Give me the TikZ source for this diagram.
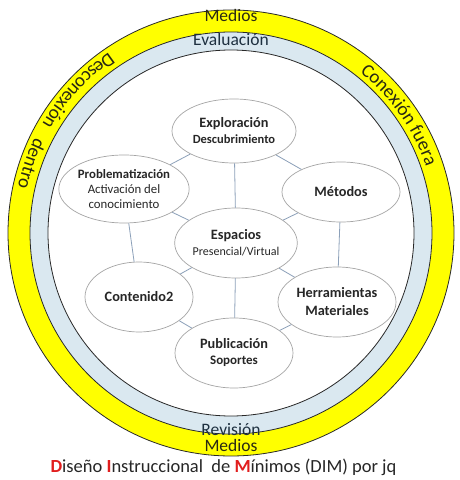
\documentclass[tikz,border=0pt]{standalone}
\usepackage{fontspec}
\setmainfont{Carlito}
\usepackage{tikz}
\usetikzlibrary{arrows,%
                shapes.geometric,%
                decorations.text}
\usepackage{color}
\definecolor{ringyellow}{RGB}{255,255,0}
\definecolor{ringblue}{RGB}{218,232,240}
\definecolor{ringline}{RGB}{40,40,40}
\definecolor{bubbleline}{RGB}{165,165,165}
\definecolor{spoke}{RGB}{140,160,185}
\definecolor{ringtext}{RGB}{30,48,64}
\definecolor{mediatext}{RGB}{40,40,20}
\definecolor{dimred}{RGB}{225,30,30}
\newcommand{\dimletter}[1]{\textcolor{dimred}{\textbf{#1}}}

\begin{document}
\begin{tikzpicture}[x=1pt, y=1pt,
  bubble/.style={ellipse, draw=bubbleline, fill=white, line width=0.7pt,
    inner sep=0pt, align=center, text=black!85,
    font=\fontsize{14.3}{16}\selectfont\bfseries},
  ringlabel/.style={anchor=base, font=\fontsize{17.5}{20}\selectfont},
  spokeline/.style={draw=spoke, line width=0.8pt},
  arctext/.style={decorate, decoration={text along path, text align=center,
    text={|\fontsize{19}{22}\selectfont\color{mediatext}|#1}}}]
\useasboundingbox (0,0) rectangle (460,480);

\coordinate (M) at (231,247);
\fill[ringyellow, draw=ringline, line width=0.8pt] (M) circle (223pt);
\fill[ringblue, draw=ringline, line width=0.8pt] (M) circle (201pt);
\fill[white, draw=ringline, line width=0.8pt] (M) circle (183pt);

\node[ringlabel, text=mediatext] (mediosA) at (231,458) {Medios};
\node[ringlabel, text=ringtext] (evaluacion) at (231,434) {Evaluación};
\node[ringlabel, text=ringtext] (revision) at (231,45) {Revisión};
\node[ringlabel, text=mediatext] (mediosB) at (231,28) {Medios};

\path[arctext={Conexión fuera}] (M) ++(80:206pt) arc (80:-10:206pt);
\path[arctext={Desconexión}] (M) ++(100:218pt) arc (100:174:218pt);
\path[arctext={dentro}] (M) ++(130:218pt) arc (130:192:218pt);

\node[bubble, minimum width=124, minimum height=64] (explo) at (234,349)
  {Exploración\\{\fontsize{12.5}{14}\selectfont Descubrimiento}};
\node[bubble, minimum width=128, minimum height=68,
  font=\fontsize{12.8}{15}\selectfont] (probl) at (124,291)
  {\textbf{Problematización}\\Activación del\\conocimiento};
\node[bubble, minimum width=118, minimum height=60] (metod) at (341,288) {Métodos};
\node[bubble, minimum width=122, minimum height=70] (espac) at (236,237)
  {Espacios\\{\fontsize{12}{14}\selectfont\mdseries Presencial/Virtual}};
\node[bubble, minimum width=108, minimum height=70] (conte) at (139,183) {Contenido2};
\node[bubble, minimum width=118, minimum height=70,
  font=\fontsize{14.3}{18}\selectfont\bfseries] (herra) at (337,178)
  {Herramientas\\Materiales};
\node[bubble, minimum width=118, minimum height=70] (publi) at (234,127)
  {Publicación\\{\fontsize{13}{15}\selectfont Soportes}};

\foreach \a/\b in {espac/explo, espac/probl, espac/metod, espac/conte,
  espac/herra, espac/publi, explo/metod, metod/herra, herra/publi,
  publi/conte, conte/probl, probl/explo}
  \path[spokeline] (\a) -- (\b);

\node[anchor=base, font=\fontsize{18.5}{20}\selectfont, text=black!85] (title) at (223.5,8)
  {\dimletter{D}iseño \dimletter{I}nstruccional\ \ de \dimletter{M}ínimos (DIM) por jq};

\end{tikzpicture}
\end{document}
